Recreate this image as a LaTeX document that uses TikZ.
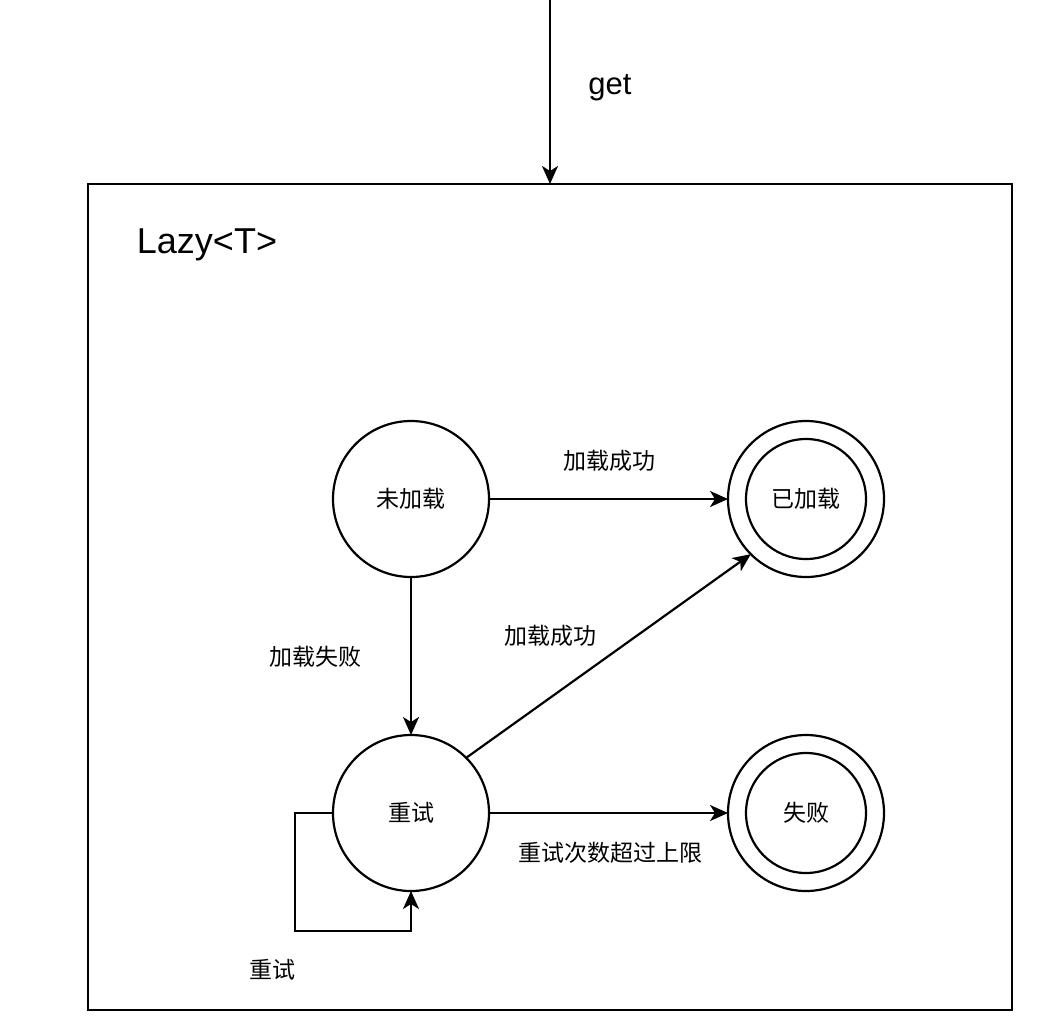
\documentclass[tikz,border=0pt]{standalone}
\usepackage{fontspec}
\setmainfont{Liberation Sans}
\newfontfamily\cjk{Noto Sans CJK SC}
\usetikzlibrary{arrows.meta}
\begin{document}
\begin{tikzpicture}[x=1pt,y=-1pt,
  every node/.style={inner sep=0pt, outer sep=0pt},
  ln/.style={line width=2.2pt},
  arr/.style={ln, -{Stealth[length=18pt,width=16pt,inset=5pt]}},
  state/.style={draw, circle, line width=2.2pt, minimum size=156pt, font=\cjk\fontsize{23}{27}\selectfont},
  inner/.style={draw, circle, line width=2.2pt, minimum size=120pt},
  lbl/.style={font=\cjk\fontsize{23}{27}\selectfont}
]
\useasboundingbox (0,0) rectangle (1048,1028);
% outer box
\node[draw, ln, minimum width=924pt, minimum height=826pt] (box) at (550,597) {};
\node[font=\fontsize{36}{42}\selectfont] (title) at (207,245) {Lazy<T>};
% entry
\coordinate (entry) at (550,0);
\draw[arr] (entry) -- (box.north);
\node[font=\fontsize{31}{36}\selectfont] (get) at (610,88) {get};
% states
\node[state] (wj) at (411,499) {未加载};
\node[state] (yj) at (806,499) {};
\node[inner, font=\cjk\fontsize{23}{27}\selectfont] (yji) at (806,499) {已加载};
\node[state] (rt) at (411,813) {重试};
\node[state] (sb) at (806,813) {};
\node[inner, font=\cjk\fontsize{23}{27}\selectfont] (sbi) at (806,813) {失败};
% edges
\draw[arr] (wj.east) -- (yj.west);
\node[lbl] (l1) at (609,461) {加载成功};
\draw[arr] (wj.south) -- (rt.north);
\node[lbl] (l2) at (315,657) {加载失败};
\draw[arr] (rt.45) -- (yj.225);
\node[lbl] (l3) at (550,636) {加载成功};
\draw[arr] (rt.east) -- (sb.west);
\node[lbl] (l4) at (610,853) {重试次数超过上限};
\coordinate (lp) at (411,931);
\draw[arr] (rt.west) -- ++(-38,0) |- (lp) -- (rt.south);
\node[lbl] (l5) at (272,970) {重试};
\end{tikzpicture}
\end{document}
